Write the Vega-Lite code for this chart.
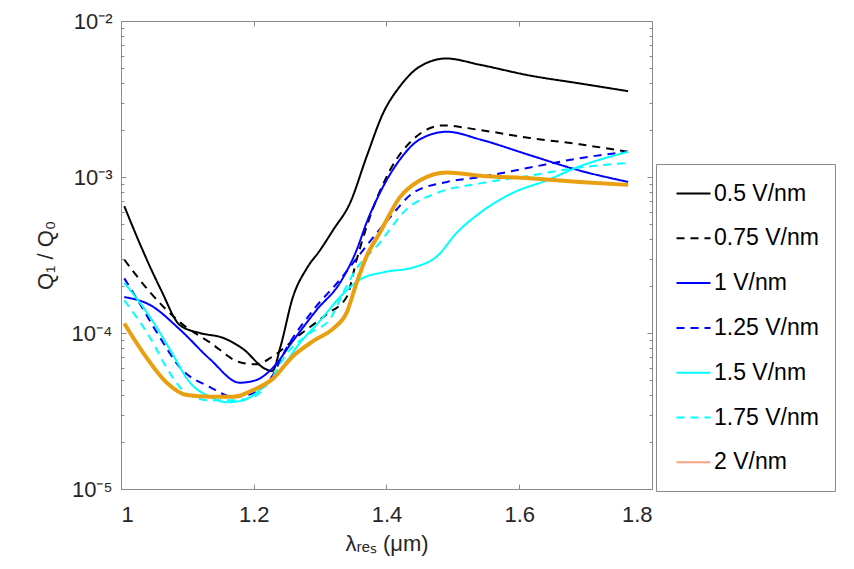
{
  "$schema": "https://vega.github.io/schema/vega-lite/v6.json",
  "width": 531,
  "height": 468,
  "autosize": "none",
  "padding": {"left": 121, "top": 21, "right": 202, "bottom": 80},
  "background": "white",
  "config": {
    "font": "Liberation Sans",
    "view": {"stroke": "#8a8a8a", "strokeWidth": 1},
    "axis": {
      "domain": false,
      "grid": false,
      "labelFont": "Liberation Sans",
      "labelFontSize": 22,
      "labelColor": "#262626",
      "titleFont": "Liberation Sans",
      "titleFontSize": 22,
      "titleFontWeight": "normal",
      "titleColor": "#262626",
      "tickColor": "#8a8a8a",
      "tickWidth": 1
    },
    "legend": {
      "orient": "none",
      "legendX": 535,
      "legendY": 143,
      "fillColor": "white",
      "strokeColor": "#8a8a8a",
      "padding": 16,
      "symbolOffset": 8,
      "symbolType": "M-1.36,0H1.36",
      "symbolSize": 625,
      "symbolStrokeWidth": 2,
      "labelFont": "Liberation Sans",
      "labelFontSize": 23,
      "labelColor": "#000000",
      "labelOffset": 7,
      "rowPadding": 18.8
    }
  },
  "data": {
    "values": [
      {"x": 1.005, "q": 6.5e-4, "s": "0.5 V/nm"},
      {"x": 1.03, "q": 3.6e-4, "s": "0.5 V/nm"},
      {"x": 1.06, "q": 1.9e-4, "s": "0.5 V/nm"},
      {"x": 1.089, "q": 1.12e-4, "s": "0.5 V/nm"},
      {"x": 1.119, "q": 1.0e-4, "s": "0.5 V/nm"},
      {"x": 1.154, "q": 9.3e-5, "s": "0.5 V/nm"},
      {"x": 1.184, "q": 7.9e-5, "s": "0.5 V/nm"},
      {"x": 1.217, "q": 5.9e-5, "s": "0.5 V/nm"},
      {"x": 1.228, "q": 5.7e-5, "s": "0.5 V/nm"},
      {"x": 1.24, "q": 8.1e-5, "s": "0.5 V/nm"},
      {"x": 1.259, "q": 1.7e-4, "s": "0.5 V/nm"},
      {"x": 1.28, "q": 2.6e-4, "s": "0.5 V/nm"},
      {"x": 1.3, "q": 3.4e-4, "s": "0.5 V/nm"},
      {"x": 1.32, "q": 4.6e-4, "s": "0.5 V/nm"},
      {"x": 1.345, "q": 6.8e-4, "s": "0.5 V/nm"},
      {"x": 1.37, "q": 1.35e-3, "s": "0.5 V/nm"},
      {"x": 1.395, "q": 2.57e-3, "s": "0.5 V/nm"},
      {"x": 1.42, "q": 3.8e-3, "s": "0.5 V/nm"},
      {"x": 1.45, "q": 5.1e-3, "s": "0.5 V/nm"},
      {"x": 1.49, "q": 5.75e-3, "s": "0.5 V/nm"},
      {"x": 1.54, "q": 5.25e-3, "s": "0.5 V/nm"},
      {"x": 1.616, "q": 4.47e-3, "s": "0.5 V/nm"},
      {"x": 1.691, "q": 3.98e-3, "s": "0.5 V/nm"},
      {"x": 1.764, "q": 3.55e-3, "s": "0.5 V/nm"},

      {"x": 1.005, "q": 2.95e-4, "s": "0.75 V/nm"},
      {"x": 1.044, "q": 1.82e-4, "s": "0.75 V/nm"},
      {"x": 1.089, "q": 1.17e-4, "s": "0.75 V/nm"},
      {"x": 1.134, "q": 8.7e-5, "s": "0.75 V/nm"},
      {"x": 1.179, "q": 6.5e-5, "s": "0.75 V/nm"},
      {"x": 1.204, "q": 6.3e-5, "s": "0.75 V/nm"},
      {"x": 1.229, "q": 7.1e-5, "s": "0.75 V/nm"},
      {"x": 1.27, "q": 9.8e-5, "s": "0.75 V/nm"},
      {"x": 1.31, "q": 1.32e-4, "s": "0.75 V/nm"},
      {"x": 1.34, "q": 1.7e-4, "s": "0.75 V/nm"},
      {"x": 1.355, "q": 2.95e-4, "s": "0.75 V/nm"},
      {"x": 1.37, "q": 4.8e-4, "s": "0.75 V/nm"},
      {"x": 1.405, "q": 1.1e-3, "s": "0.75 V/nm"},
      {"x": 1.44, "q": 1.74e-3, "s": "0.75 V/nm"},
      {"x": 1.485, "q": 2.14e-3, "s": "0.75 V/nm"},
      {"x": 1.541, "q": 2.0e-3, "s": "0.75 V/nm"},
      {"x": 1.616, "q": 1.78e-3, "s": "0.75 V/nm"},
      {"x": 1.691, "q": 1.62e-3, "s": "0.75 V/nm"},
      {"x": 1.764, "q": 1.45e-3, "s": "0.75 V/nm"},

      {"x": 1.005, "q": 1.7e-4, "s": "1 V/nm"},
      {"x": 1.044, "q": 1.51e-4, "s": "1 V/nm"},
      {"x": 1.089, "q": 1.05e-4, "s": "1 V/nm"},
      {"x": 1.134, "q": 6.8e-5, "s": "1 V/nm"},
      {"x": 1.179, "q": 4.8e-5, "s": "1 V/nm"},
      {"x": 1.204, "q": 5.0e-5, "s": "1 V/nm"},
      {"x": 1.229, "q": 6.0e-5, "s": "1 V/nm"},
      {"x": 1.259, "q": 8.9e-5, "s": "1 V/nm"},
      {"x": 1.295, "q": 1.41e-4, "s": "1 V/nm"},
      {"x": 1.33, "q": 2.1e-4, "s": "1 V/nm"},
      {"x": 1.355, "q": 3.4e-4, "s": "1 V/nm"},
      {"x": 1.37, "q": 5.1e-4, "s": "1 V/nm"},
      {"x": 1.39, "q": 7.9e-4, "s": "1 V/nm"},
      {"x": 1.42, "q": 1.29e-3, "s": "1 V/nm"},
      {"x": 1.45, "q": 1.74e-3, "s": "1 V/nm"},
      {"x": 1.491, "q": 1.95e-3, "s": "1 V/nm"},
      {"x": 1.541, "q": 1.74e-3, "s": "1 V/nm"},
      {"x": 1.616, "q": 1.38e-3, "s": "1 V/nm"},
      {"x": 1.691, "q": 1.1e-3, "s": "1 V/nm"},
      {"x": 1.764, "q": 9.3e-4, "s": "1 V/nm"},

      {"x": 1.005, "q": 2.24e-4, "s": "1.25 V/nm"},
      {"x": 1.03, "q": 1.5e-4, "s": "1.25 V/nm"},
      {"x": 1.059, "q": 9.3e-5, "s": "1.25 V/nm"},
      {"x": 1.089, "q": 6.0e-5, "s": "1.25 V/nm"},
      {"x": 1.134, "q": 4.5e-5, "s": "1.25 V/nm"},
      {"x": 1.169, "q": 3.9e-5, "s": "1.25 V/nm"},
      {"x": 1.199, "q": 4.1e-5, "s": "1.25 V/nm"},
      {"x": 1.224, "q": 5.0e-5, "s": "1.25 V/nm"},
      {"x": 1.25, "q": 8.1e-5, "s": "1.25 V/nm"},
      {"x": 1.29, "q": 1.41e-4, "s": "1.25 V/nm"},
      {"x": 1.33, "q": 2.2e-4, "s": "1.25 V/nm"},
      {"x": 1.36, "q": 3.2e-4, "s": "1.25 V/nm"},
      {"x": 1.405, "q": 5.5e-4, "s": "1.25 V/nm"},
      {"x": 1.44, "q": 7.9e-4, "s": "1.25 V/nm"},
      {"x": 1.491, "q": 9.3e-4, "s": "1.25 V/nm"},
      {"x": 1.541, "q": 1.0e-3, "s": "1.25 V/nm"},
      {"x": 1.616, "q": 1.15e-3, "s": "1.25 V/nm"},
      {"x": 1.691, "q": 1.32e-3, "s": "1.25 V/nm"},
      {"x": 1.764, "q": 1.45e-3, "s": "1.25 V/nm"},

      {"x": 1.005, "q": 2.1e-4, "s": "1.5 V/nm"},
      {"x": 1.044, "q": 1.26e-4, "s": "1.5 V/nm"},
      {"x": 1.074, "q": 7.8e-5, "s": "1.5 V/nm"},
      {"x": 1.104, "q": 4.8e-5, "s": "1.5 V/nm"},
      {"x": 1.134, "q": 3.9e-5, "s": "1.5 V/nm"},
      {"x": 1.16, "q": 3.6e-5, "s": "1.5 V/nm"},
      {"x": 1.184, "q": 3.7e-5, "s": "1.5 V/nm"},
      {"x": 1.214, "q": 4.5e-5, "s": "1.5 V/nm"},
      {"x": 1.24, "q": 5.8e-5, "s": "1.5 V/nm"},
      {"x": 1.27, "q": 8.7e-5, "s": "1.5 V/nm"},
      {"x": 1.3, "q": 1.2e-4, "s": "1.5 V/nm"},
      {"x": 1.33, "q": 1.7e-4, "s": "1.5 V/nm"},
      {"x": 1.36, "q": 2.2e-4, "s": "1.5 V/nm"},
      {"x": 1.395, "q": 2.45e-4, "s": "1.5 V/nm"},
      {"x": 1.44, "q": 2.63e-4, "s": "1.5 V/nm"},
      {"x": 1.476, "q": 3.1e-4, "s": "1.5 V/nm"},
      {"x": 1.506, "q": 4.4e-4, "s": "1.5 V/nm"},
      {"x": 1.541, "q": 5.9e-4, "s": "1.5 V/nm"},
      {"x": 1.59, "q": 7.9e-4, "s": "1.5 V/nm"},
      {"x": 1.641, "q": 9.5e-4, "s": "1.5 V/nm"},
      {"x": 1.691, "q": 1.17e-3, "s": "1.5 V/nm"},
      {"x": 1.764, "q": 1.45e-3, "s": "1.5 V/nm"},

      {"x": 1.005, "q": 1.62e-4, "s": "1.75 V/nm"},
      {"x": 1.044, "q": 9.3e-5, "s": "1.75 V/nm"},
      {"x": 1.074, "q": 5.5e-5, "s": "1.75 V/nm"},
      {"x": 1.099, "q": 4.1e-5, "s": "1.75 V/nm"},
      {"x": 1.134, "q": 3.7e-5, "s": "1.75 V/nm"},
      {"x": 1.169, "q": 3.7e-5, "s": "1.75 V/nm"},
      {"x": 1.2, "q": 3.9e-5, "s": "1.75 V/nm"},
      {"x": 1.225, "q": 5.0e-5, "s": "1.75 V/nm"},
      {"x": 1.25, "q": 7.4e-5, "s": "1.75 V/nm"},
      {"x": 1.285, "q": 1.0e-4, "s": "1.75 V/nm"},
      {"x": 1.315, "q": 1.23e-4, "s": "1.75 V/nm"},
      {"x": 1.335, "q": 1.82e-4, "s": "1.75 V/nm"},
      {"x": 1.35, "q": 2.4e-4, "s": "1.75 V/nm"},
      {"x": 1.39, "q": 3.8e-4, "s": "1.75 V/nm"},
      {"x": 1.43, "q": 6.2e-4, "s": "1.75 V/nm"},
      {"x": 1.476, "q": 7.9e-4, "s": "1.75 V/nm"},
      {"x": 1.541, "q": 9.1e-4, "s": "1.75 V/nm"},
      {"x": 1.616, "q": 1.02e-3, "s": "1.75 V/nm"},
      {"x": 1.691, "q": 1.15e-3, "s": "1.75 V/nm"},
      {"x": 1.764, "q": 1.23e-3, "s": "1.75 V/nm"},

      {"x": 1.005, "q": 1.15e-4, "s": "2 V/nm"},
      {"x": 1.034, "q": 7.4e-5, "s": "2 V/nm"},
      {"x": 1.069, "q": 4.8e-5, "s": "2 V/nm"},
      {"x": 1.099, "q": 4.0e-5, "s": "2 V/nm"},
      {"x": 1.134, "q": 3.9e-5, "s": "2 V/nm"},
      {"x": 1.169, "q": 3.9e-5, "s": "2 V/nm"},
      {"x": 1.199, "q": 4.3e-5, "s": "2 V/nm"},
      {"x": 1.229, "q": 5.1e-5, "s": "2 V/nm"},
      {"x": 1.259, "q": 7.1e-5, "s": "2 V/nm"},
      {"x": 1.29, "q": 8.9e-5, "s": "2 V/nm"},
      {"x": 1.32, "q": 1.07e-4, "s": "2 V/nm"},
      {"x": 1.34, "q": 1.35e-4, "s": "2 V/nm"},
      {"x": 1.355, "q": 2.1e-4, "s": "2 V/nm"},
      {"x": 1.37, "q": 3.1e-4, "s": "2 V/nm"},
      {"x": 1.39, "q": 4.4e-4, "s": "2 V/nm"},
      {"x": 1.42, "q": 7.4e-4, "s": "2 V/nm"},
      {"x": 1.45, "q": 9.5e-4, "s": "2 V/nm"},
      {"x": 1.491, "q": 1.07e-3, "s": "2 V/nm"},
      {"x": 1.541, "q": 1.02e-3, "s": "2 V/nm"},
      {"x": 1.616, "q": 9.8e-4, "s": "2 V/nm"},
      {"x": 1.691, "q": 9.3e-4, "s": "2 V/nm"},
      {"x": 1.764, "q": 8.9e-4, "s": "2 V/nm"}
    ]
  },
  "layer": [
    {
      "mark": {"type": "line", "interpolate": "monotone", "strokeWidth": 2},
      "encoding": {
        "x": {
          "field": "x",
          "type": "quantitative",
          "scale": {"domain": [1, 1.8], "nice": false, "zero": false},
          "axis": {
            "orient": "bottom",
            "values": [1, 1.2, 1.4, 1.6, 1.8],
            "format": "~g",
            "tickSize": -5,
            "labelPadding": 20,
            "title": "λᵣₑₛ (μm)",
            "titlePadding": 8
          }
        },
        "y": {
          "field": "q",
          "type": "quantitative",
          "scale": {"type": "log", "domain": [1e-5, 1e-2], "nice": false},
          "axis": {
            "orient": "left",
            "values": [1e-5, 2e-5, 3e-5, 4e-5, 5e-5, 6e-5, 7e-5, 8e-5, 9e-5, 1e-4, 2e-4, 3e-4, 4e-4, 5e-4, 6e-4, 7e-4, 8e-4, 9e-4, 1e-3, 2e-3, 3e-3, 4e-3, 5e-3, 6e-3, 7e-3, 8e-3, 9e-3, 1e-2],
            "labelExpr": "abs(log(datum.value)/LN10 - round(log(datum.value)/LN10)) < 0.001 ? '10' + ['⁰','⁻¹','⁻²','⁻³','⁻⁴','⁻⁵'][-round(log(datum.value)/LN10)] : ''",
            "tickSize": {"condition": {"test": "abs(log(datum.value)/LN10 - round(log(datum.value)/LN10)) < 0.001", "value": -5}, "value": -3},
            "labelPadding": 14,
            "title": "Q₁ / Q₀",
            "titlePadding": 14
          }
        },
        "color": {
          "field": "s",
          "type": "nominal",
          "title": null,
          "scale": {
            "domain": ["0.5 V/nm", "0.75 V/nm", "1 V/nm", "1.25 V/nm", "1.5 V/nm", "1.75 V/nm", "2 V/nm"],
            "range": ["#000000", "#000000", "#0000ff", "#0000ff", "#00ffff", "#00ffff", "#f4a582"]
          }
        },
        "strokeDash": {
          "field": "s",
          "type": "nominal",
          "title": null,
          "scale": {
            "domain": ["0.5 V/nm", "0.75 V/nm", "1 V/nm", "1.25 V/nm", "1.5 V/nm", "1.75 V/nm", "2 V/nm"],
            "range": [[1, 0], [8, 6], [1, 0], [8, 6], [1, 0], [8, 6], [1, 0]]
          }
        }
      }
    },
    {
      "transform": [{"filter": "datum.s == '2 V/nm'"}],
      "mark": {"type": "line", "interpolate": "monotone", "strokeWidth": 4, "color": "#e8a010"},
      "encoding": {
        "x": {"field": "x", "type": "quantitative", "axis": null},
        "y": {"field": "q", "type": "quantitative", "axis": null}
      }
    },
    {
      "transform": [{"filter": "datum.s == '2 V/nm'"}],
      "mark": {"type": "line", "opacity": 0},
      "encoding": {
        "x": {
          "field": "x",
          "type": "quantitative",
          "axis": {"orient": "top", "values": [1, 1.2, 1.4, 1.6, 1.8], "labels": false, "title": null, "tickSize": -5}
        },
        "y": {
          "field": "q",
          "type": "quantitative",
          "axis": {
            "orient": "right",
            "values": [1e-5, 2e-5, 3e-5, 4e-5, 5e-5, 6e-5, 7e-5, 8e-5, 9e-5, 1e-4, 2e-4, 3e-4, 4e-4, 5e-4, 6e-4, 7e-4, 8e-4, 9e-4, 1e-3, 2e-3, 3e-3, 4e-3, 5e-3, 6e-3, 7e-3, 8e-3, 9e-3, 1e-2],
            "labels": false,
            "title": null,
            "tickSize": {"condition": {"test": "abs(log(datum.value)/LN10 - round(log(datum.value)/LN10)) < 0.001", "value": -5}, "value": -3}
          }
        }
      }
    }
  ],
  "resolve": {"axis": {"x": "independent", "y": "independent"}}
}
